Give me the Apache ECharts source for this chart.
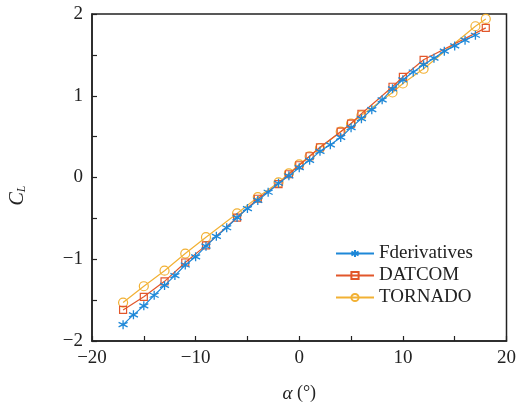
<!DOCTYPE html>
<html>
<head>
<meta charset="utf-8">
<script src="https://cdn.jsdelivr.net/npm/echarts@6/dist/echarts.min.js"></script>
<style>
  html, body { margin: 0; padding: 0; background: #fff; }
  #chart1 { width: 519px; height: 408px; }
</style>
</head>
<body>
<div id="chart1"></div>
<script>
// angle of attack (deg) and lift coefficient
const alphaFder = [-17, -16, -15, -14, -13, -12, -11, -10, -9, -8, -7, -6, -5, -4, -3, -2, -1, 0,
  1, 2, 3, 4, 5, 6, 7, 8, 9, 10, 11, 12, 13, 14, 15, 16, 17]
const clFder = [-1.80, -1.68, -1.57, -1.44, -1.32, -1.20, -1.07, -0.97, -0.84, -0.72, -0.615, -0.49, -0.38, -0.28, -0.18, -0.07, 0.02, 0.12,
  0.21, 0.32, 0.40, 0.49, 0.61, 0.72, 0.83, 0.95, 1.085, 1.195, 1.29, 1.38, 1.46, 1.545, 1.61, 1.68, 1.74]

const alphaDatcom = [-17, -15, -13, -11, -9, -6, -4, -2, -1, 0, 1, 2, 4, 5, 6, 9, 10, 12, 18]
const clDatcom = [-1.62, -1.46, -1.27, -1.04, -0.83, -0.49, -0.26, -0.08, 0.04, 0.15, 0.26, 0.37, 0.56, 0.66, 0.78, 1.11, 1.23, 1.44, 1.83]

const alphaTornado = [-17, -15, -13, -11, -9, -6, -4, -2, -1, 0, 1, 2, 4, 5, 6, 9, 10, 12, 17, 18]
const clTornado = [-1.53, -1.33, -1.14, -0.93, -0.73, -0.44, -0.24, -0.06, 0.05, 0.16, 0.26, 0.36, 0.56, 0.66, 0.76, 1.04, 1.15, 1.33, 1.85, 1.94]

const xTicks = [-20, -10, 0, 10, 20]
const yTicks = [-2, -1, 0, 1, 2]

const pairs = (xs, ys) => xs.map((x, i) => [x, ys[i]])
const minus = (v) => String(v).replace('-', '\u2212')

const blue = '#1E88D8'
const red = '#E2572B'
const yellow = '#F2B134'
const ink = '#222'
const serif = '"Liberation Serif", "DejaVu Serif", serif'
const star = 'path://M5,0L5,10M0.7,2.5L9.3,7.5M0.7,7.5L9.3,2.5'

const getOption = () => {
  return {
    backgroundColor: '#fff',
    animation: false,
    textStyle: { fontFamily: serif, color: ink },
    grid: {
      left: 91,
      right: 12,
      top: 14,
      bottom: 66,
      show: true,
      borderColor: ink,
      borderWidth: 1.5,
      backgroundColor: 'transparent'
    },
    legend: {
      orient: 'vertical',
      left: 330,
      top: 239,
      itemWidth: 38,
      itemHeight: 9,
      itemGap: 3,
      textStyle: { fontFamily: serif, fontSize: 19, color: ink },
      data: ['Fderivatives', 'DATCOM', 'TORNADO']
    },
    xAxis: {
      type: 'value',
      min: -20,
      max: 20,
      interval: 5,
      name: '{a|\u03b1} (°)',
      nameLocation: 'middle',
      nameGap: 43,
      nameTextStyle: {
        fontFamily: serif, fontSize: 18, color: ink,
        rich: { a: { fontFamily: serif, fontSize: 19, fontStyle: 'italic', color: ink } }
      },
      axisLine: { onZero: false, lineStyle: { color: ink, width: 1.5 } },
      axisTick: { inside: true, length: 5, lineStyle: { color: ink, width: 1.2 } },
      splitLine: { show: false },
      axisLabel: {
        fontFamily: serif, fontSize: 19, color: ink, margin: 8,
        formatter: (v) => xTicks.includes(v) ? minus(v) : ''
      }
    },
    yAxis: {
      type: 'value',
      min: -2,
      max: 2,
      interval: 0.5,
      name: '{c|C}{s|L}',
      nameLocation: 'middle',
      nameRotate: 90,
      nameGap: 64,
      nameTextStyle: {
        padding: [0, 36, 0, 0],
        rich: {
          c: { fontFamily: serif, fontSize: 20, fontStyle: 'italic', color: ink },
          s: { fontFamily: serif, fontSize: 12, fontStyle: 'italic', color: ink, padding: [8, 0, 0, 0] }
        }
      },
      axisLine: { onZero: false, lineStyle: { color: ink, width: 1.5 } },
      axisTick: { inside: true, length: 5, lineStyle: { color: ink, width: 1.2 } },
      splitLine: { show: false },
      axisLabel: {
        fontFamily: serif, fontSize: 19, color: ink, margin: 9,
        formatter: (v) => yTicks.includes(v) ? minus(v) : ''
      }
    },
    series: [
      {
        name: 'Fderivatives',
        type: 'line',
        data: pairs(alphaFder, clFder),
        symbol: star,
        symbolSize: 9,
        lineStyle: { color: blue, width: 1.2 },
        itemStyle: { color: blue, borderColor: blue, borderWidth: 1.3 },
        z: 4
      },
      {
        name: 'DATCOM',
        type: 'line',
        data: pairs(alphaDatcom, clDatcom),
        symbol: 'rect',
        symbolSize: 7,
        lineStyle: { color: red, width: 1.2 },
        itemStyle: { color: 'rgba(255,255,255,0)', borderColor: red, borderWidth: 1.2 },
        z: 3
      },
      {
        name: 'TORNADO',
        type: 'line',
        data: pairs(alphaTornado, clTornado),
        symbol: 'circle',
        symbolSize: 9,
        lineStyle: { color: yellow, width: 1.2 },
        itemStyle: { color: 'rgba(255,255,255,0)', borderColor: yellow, borderWidth: 1.2 },
        z: 2
      }
    ]
  }
}

const initChart = () => {
  const chart1 = echarts.init(document.getElementById('chart1'), null, { renderer: 'canvas' })
  chart1.setOption(getOption())
}

if (typeof window !== 'undefined') {
  initChart()
}
</script>
</body>
</html>
